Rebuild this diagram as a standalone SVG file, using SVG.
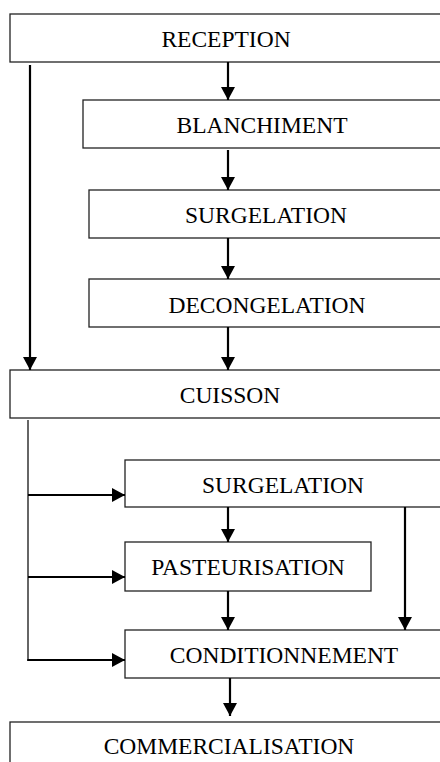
<svg xmlns="http://www.w3.org/2000/svg" width="440" height="762" viewBox="0 0 440 762">
<style>
.box{fill:#fff;stroke:#222;stroke-width:1.3}
.lbl{font-family:"Liberation Serif","Times New Roman",serif;font-size:23.5px;fill:#000;text-anchor:middle}
.arr{stroke:#000;stroke-width:2.2;fill:none}
.trunk{stroke:#333;stroke-width:1.5;fill:none}
</style>
<defs>
<marker id="ah" markerUnits="userSpaceOnUse" markerWidth="14" markerHeight="14" refX="13" refY="7" orient="auto">
<path d="M0,0 L13,7 L0,14 z" fill="#000"/>
</marker>
</defs>
<rect width="440" height="762" fill="#fff"/>
<g id="n-reception"><rect class="box" x="10" y="14" width="434" height="48"/><text class="lbl" x="226" y="47">RECEPTION</text></g>
<g id="n-blanchiment"><rect class="box" x="83" y="100" width="360" height="48"/><text class="lbl" x="262" y="133">BLANCHIMENT</text></g>
<g id="n-surgelation1"><rect class="box" x="89" y="190" width="356" height="48"/><text class="lbl" x="266" y="223">SURGELATION</text></g>
<g id="n-decongelation"><rect class="box" x="89" y="279" width="356" height="48"/><text class="lbl" x="267" y="313">DECONGELATION</text></g>
<g id="n-cuisson"><rect class="box" x="10" y="370" width="440" height="48"/><text class="lbl" x="230" y="403">CUISSON</text></g>
<g id="n-surgelation2"><rect class="box" x="125" y="460" width="320" height="47"/><text class="lbl" x="283" y="493">SURGELATION</text></g>
<g id="n-pasteurisation"><rect class="box" x="125" y="542" width="246" height="49"/><text class="lbl" x="248" y="575">PASTEURISATION</text></g>
<g id="n-conditionnement"><rect class="box" x="125" y="630" width="320" height="48"/><text class="lbl" x="284" y="663">CONDITIONNEMENT</text></g>
<g id="n-commercialisation"><rect class="box" x="10" y="722" width="440" height="60"/><text class="lbl" x="229" y="754">COMMERCIALISATION</text></g>
<g id="connectors">
<line class="arr" x1="228" y1="62" x2="228" y2="100" marker-end="url(#ah)"/>
<line class="arr" x1="228" y1="150" x2="228" y2="190" marker-end="url(#ah)"/>
<line class="arr" x1="228" y1="238" x2="228" y2="279" marker-end="url(#ah)"/>
<line class="arr" x1="228" y1="327" x2="228" y2="370" marker-end="url(#ah)"/>
<line class="arr" x1="30" y1="65" x2="30" y2="370" marker-end="url(#ah)"/>
<line class="trunk" x1="28" y1="420" x2="28" y2="661"/>
<line class="arr" x1="28" y1="495" x2="125" y2="495" marker-end="url(#ah)"/>
<line class="arr" x1="28" y1="577" x2="125" y2="577" marker-end="url(#ah)"/>
<line class="arr" x1="27.3" y1="660" x2="125" y2="660" marker-end="url(#ah)"/>
<line class="arr" x1="228" y1="507" x2="228" y2="542" marker-end="url(#ah)"/>
<line class="arr" x1="405" y1="507" x2="405" y2="630" marker-end="url(#ah)"/>
<line class="arr" x1="228" y1="591" x2="228" y2="630" marker-end="url(#ah)"/>
<line class="arr" x1="230" y1="678" x2="230" y2="716" marker-end="url(#ah)"/>
</g>
</svg>
